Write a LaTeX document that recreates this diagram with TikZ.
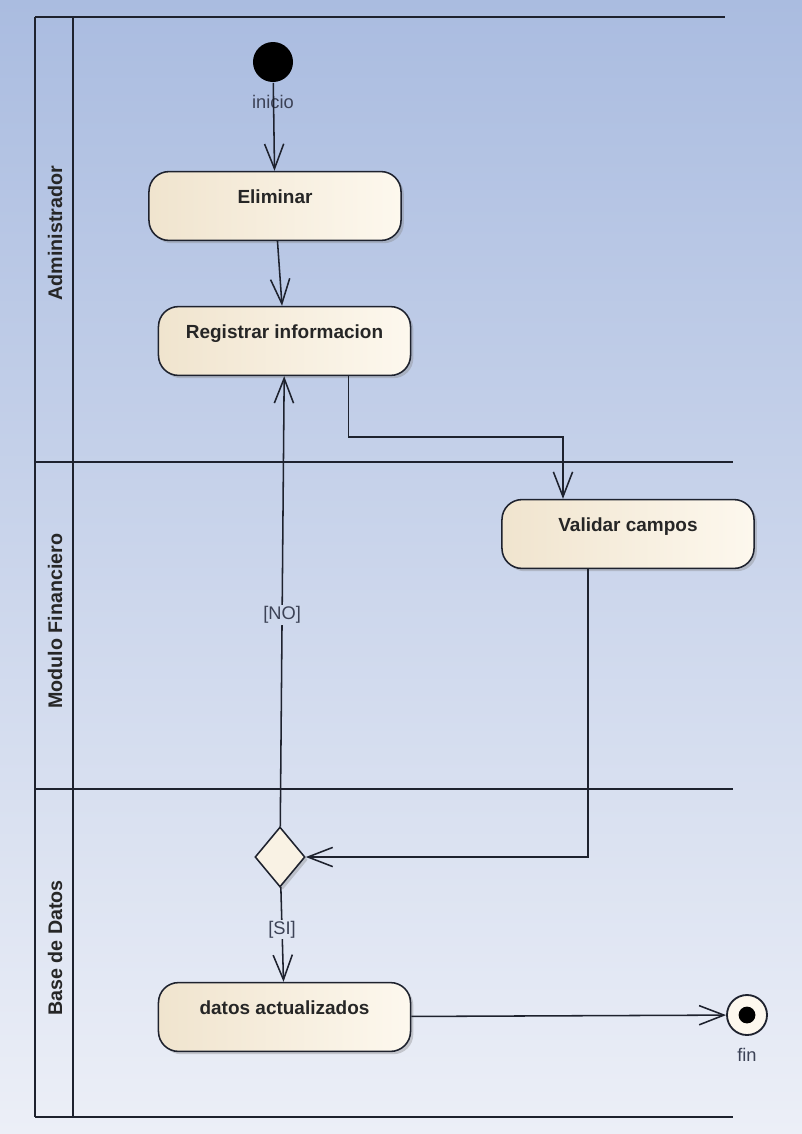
\documentclass[tikz,border=0pt]{standalone}
\usepackage{fontspec}
\setmainfont{Liberation Sans}
\usetikzlibrary{shapes.geometric,shadows,arrows.meta}
\definecolor{bgtop}{RGB}{170,188,224}
\definecolor{bgbot}{RGB}{236,239,247}
\definecolor{lanecol}{RGB}{30,34,46}
\definecolor{actleft}{RGB}{240,228,206}
\definecolor{actright}{RGB}{253,248,238}
\definecolor{guardcol}{RGB}{60,66,86}
\tikzset{
	laneline/.style={draw=lanecol, line width=1.4pt},
	lanelabel/.style={rotate=90, font=\fontsize{14}{16}\selectfont\bfseries, text=black!85},
	activity/.style={draw=lanecol, line width=1.1pt, rounded corners=0.5cm, minimum width=6.3cm, minimum height=1.72cm,
		left color=actleft, right color=actright, drop shadow={shadow xshift=2pt, shadow yshift=-2pt, opacity=0.35},
		font=\fontsize{13.5}{16}\selectfont\bfseries, text=black!85, text height=0.3cm, text depth=0.45cm},
	decision/.style={diamond, draw=lanecol, line width=1.1pt, minimum width=1.25cm, minimum height=1.5cm, inner sep=0pt,
		fill=actright!70!actleft, drop shadow={shadow xshift=2pt, shadow yshift=-2pt, opacity=0.35}},
	guard/.style={font=\fontsize{13}{15}\selectfont, text=guardcol, inner sep=1pt}
}
\begin{document}
\begin{tikzpicture}[x=0.025cm, y=-0.025cm, >={Straight Barb[length=0.62cm,width=0.48cm]}, line width=1.1pt]
	\fill[top color=bgtop, bottom color=bgbot] (0,0) rectangle (802,1134);
	\useasboundingbox (0,0) rectangle (802,1134);
	\draw[laneline] (35,17) -- (725,17);
	\foreach \y in {462,789,1117} {
		\draw[laneline] (35,\y) -- (733,\y);
	}
	\foreach \x in {35,73} {
		\draw[laneline] (\x,17) -- (\x,1117);
	}
	\foreach \y/\t/\n in {233/Administrador/admin,621/Modulo Financiero/modulo,948/Base de Datos/base} {
		\node[lanelabel] (\n) at (55,\y) {\t};
	}
	\node[circle, fill=black, minimum size=1cm, inner sep=0pt] (inicio) at (273,62) {};
	\node[guard] (inicioL) at (273,102) {inicio};
	\node[activity] (elim) at (275,206) {Eliminar};
	\node[activity] (reg) at (284.5,341) {Registrar informacion};
	\node[activity] (val) at (628,534) {Validar campos};
	\node[decision] (dec) at (280,857) {};
	\node[activity] (datos) at (284.5,1017) {datos actualizados};
	\node[circle, draw=lanecol, line width=1.3pt, fill=actright, minimum size=1cm, inner sep=0pt] (fin) at (747,1015) {};
	\node[circle, fill=black, minimum size=0.42cm, inner sep=0pt] (finIn) at (fin) {};
	\node[guard] (finL) at (747,1055) {fin};
	\path[->, draw=lanecol] (inicio) edge (elim);
	\path[->, draw=lanecol] (elim) edge (reg);
	\draw[->, lanecol] ([xshift=1.6cm]reg.south) -- ++(0,61) -| ([xshift=-1.625cm]val.north);
	\draw[->, lanecol] ([xshift=-1cm]val.south) |- (dec.east);
	\path[->, draw=lanecol] (dec) edge node[guard, pos=0.47, fill=bgbot!54!bgtop] (no) {[NO]} (reg);
	\path[->, draw=lanecol] (dec) edge node[guard, pos=0.45, fill=bgbot!82!bgtop] (si) {[SI]} (datos);
	\path[->, draw=lanecol] (datos) edge (fin);
\end{tikzpicture}
\end{document}
